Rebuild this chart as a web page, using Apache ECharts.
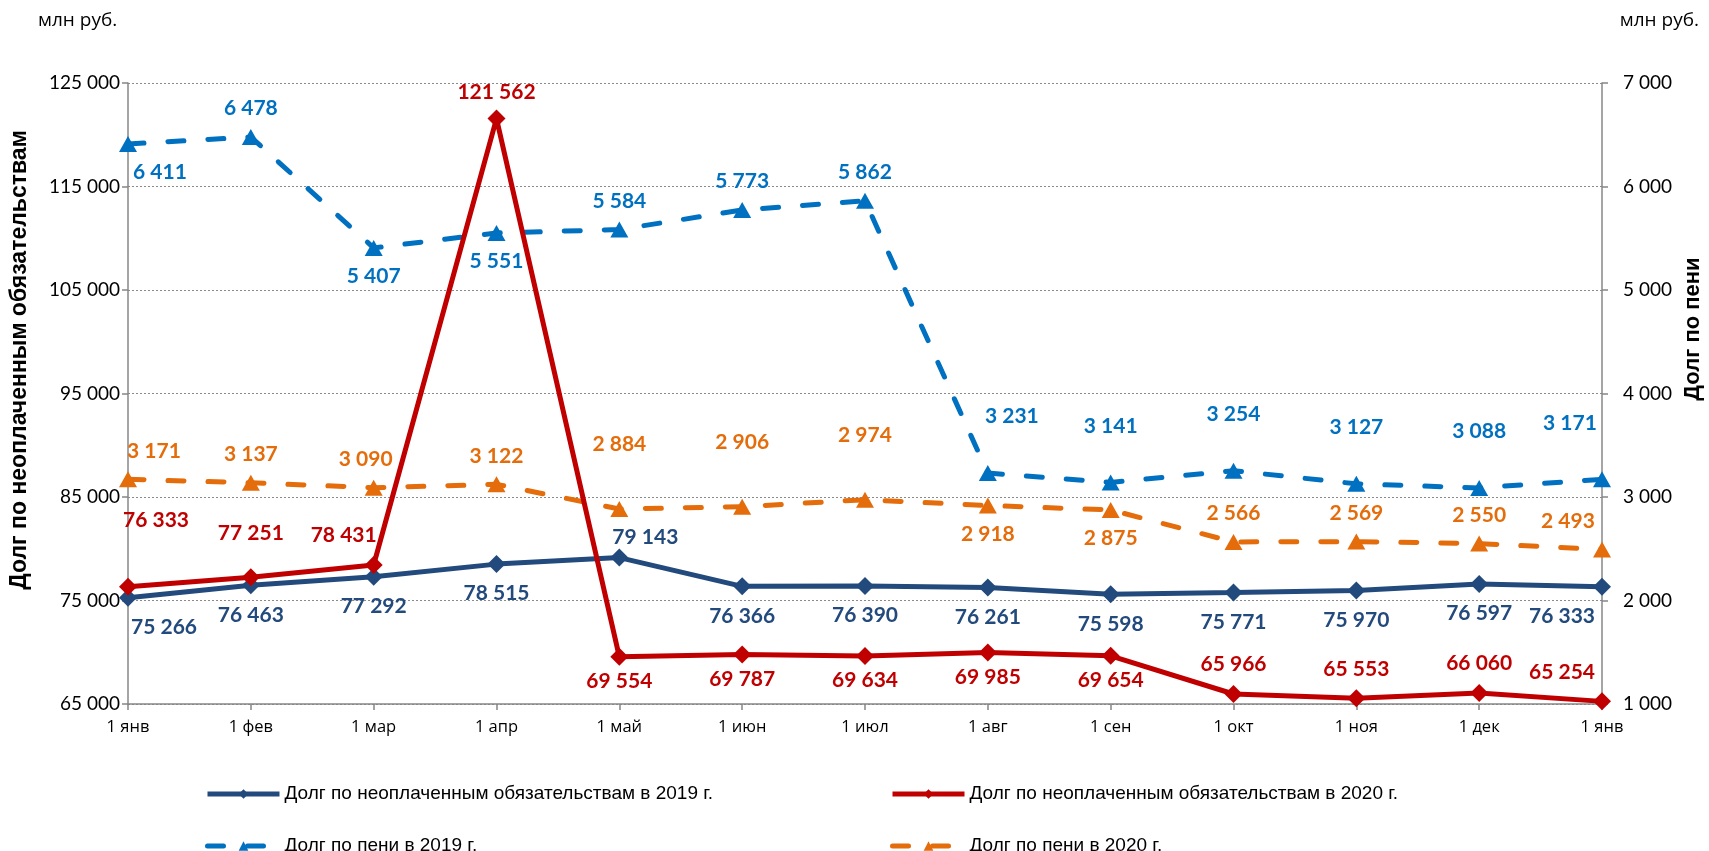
<!DOCTYPE html>
<html>
<head>
<meta charset="utf-8">
<script src="https://cdn.jsdelivr.net/npm/echarts@6/dist/echarts.min.js"></script>
<style>
html,body{margin:0;padding:0;background:#fff;}
#chart{width:1709px;height:851px;}
</style>
</head>
<body>
<div id="chart"></div>
<script>
const categories = ['1 янв','1 фев','1 мар','1 апр','1 май','1 июн','1 июл','1 авг','1 сен','1 окт','1 ноя','1 дек','1 янв'];
const debt2019 = [75266, 76463, 77292, 78515, 79143, 76366, 76390, 76261, 75598, 75771, 75970, 76597, 76333];
const debt2020 = [76333, 77251, 78431, 121562, 69554, 69787, 69634, 69985, 69654, 65966, 65553, 66060, 65254];
const peni2019 = [6411, 6478, 5407, 5551, 5584, 5773, 5862, 3231, 3141, 3254, 3127, 3088, 3171];
const peni2020 = [3171, 3137, 3090, 3122, 2884, 2906, 2974, 2918, 2875, 2566, 2569, 2550, 2493];
const leftTicks = {min: 65000, max: 125000, interval: 10000};
const rightTicks = {min: 1000, max: 7000, interval: 1000};
const names = [
  'Долг по неоплаченным обязательствам в 2019 г.',
  'Долг по неоплаченным обязательствам в 2020 г.',
  'Долг по пени в 2019 г.',
  'Долг по пени в 2020 г.'
];

// label placement (T = top, B = bottom) and [dx, dy] shifts
const pos2019 = 'BBBBTBBBBBBBB';
const pos2020 = 'TTTTBBBBBTTTT';
const posP19  = 'BTBBTTTTTTTTT';
const posP20  = 'TTTTTTTBBTTTT';
const off2019 = [[36,0],[0,0],[0,0],[0,0],[26,9],[0,0],[0,0],[0,0],[0,0],[0,0],[0,0],[0,0],[-40,0]];
const off2020 = [[28,-37],[0,-14],[-30,0],[0,3],[0,-5],[0,-5],[0,-5],[0,-5],[0,-5],[0,0],[0,0],[0,0],[-40,0]];
const offP19  = [[32,0],[0,0],[0,0],[0,0],[0,0],[0,0],[0,0],[24,-28],[0,-28],[0,-28],[0,-28],[0,-28],[-32,-28]];
const offP20  = [[26,0],[0,0],[-8,0],[0,0],[0,-36],[0,-36],[0,-36],[0,0],[0,0],[0,0],[0,0],[0,0],[-34,0]];

const fmt = v => String(v).replace(/\B(?=(\d{3})+(?!\d))/g, ' ');

function build(values, pos, off) {
  return values.map((v, i) => ({
    value: v,
    label: {position: pos[i] === 'T' ? 'top' : 'bottom', offset: off[i]}
  }));
}

const colors = ['#234A7C', '#C00000', '#0070C0', '#E46C0A'];
const labelBase = c => ({
  show: true, color: c, fontFamily: 'Lato', fontWeight: 'bold', fontSize: 21,
  distance: 10, formatter: p => fmt(p.value)
});

const chart = echarts.init(document.getElementById('chart'), null, {renderer: 'canvas'});
const axisGray = '#878787';

const legendBase = (name, left, top) => ({
  data: [name], orient: 'horizontal', left: left, top: top, padding: 0,
  itemWidth: 72, itemHeight: 12,
  lineStyle: {width: 5},
  textStyle: {fontFamily: 'Liberation Sans', fontSize: 19, color: '#000', lineHeight: 22}
});

chart.setOption({
  animation: false,
  textStyle: {fontFamily: 'Lato'},
  grid: {left: 128, right: 107, top: 83, bottom: 147, containLabel: false},
  legend: [
    legendBase(names[0], 205, 783),
    legendBase(names[2], 205, 835),
    legendBase(names[1], 890, 783),
    legendBase(names[3], 890, 835)
  ],
  xAxis: {
    type: 'category', data: categories, boundaryGap: false,
    axisLine: {lineStyle: {color: axisGray, width: 1.5}},
    axisTick: {show: true, alignWithLabel: true, length: 6, lineStyle: {color: axisGray, width: 1.5}},
    axisLabel: {color: '#000', fontFamily: 'Open Sans', fontSize: 16.5, margin: 15},
    splitLine: {show: false}
  },
  yAxis: [
    {
      type: 'value', min: leftTicks.min, max: leftTicks.max, interval: leftTicks.interval,
      axisLine: {show: true, lineStyle: {color: axisGray, width: 1.5}},
      axisTick: {show: true, length: 6, lineStyle: {color: axisGray, width: 1.5}},
      axisLabel: {color: '#000', fontFamily: 'Lato', fontSize: 19, margin: 8, formatter: fmt},
      splitLine: {show: true, lineStyle: {color: '#8a8a8a', width: 1, type: [2, 2]}}
    },
    {
      type: 'value', min: rightTicks.min, max: rightTicks.max, interval: rightTicks.interval,
      position: 'right',
      axisLine: {show: true, lineStyle: {color: axisGray, width: 1.5}},
      axisTick: {show: true, length: 6, lineStyle: {color: axisGray, width: 1.5}},
      axisLabel: {color: '#000', fontFamily: 'Lato', fontSize: 19, margin: 21, formatter: fmt},
      splitLine: {show: false}
    }
  ],
  graphic: [
    {type: 'text', left: 38, top: 11, style: {text: 'млн руб.', font: '19px "Open Sans"', fill: '#000'}},
    {type: 'text', right: 10, top: 11, style: {text: 'млн руб.', font: '19px "Open Sans"', fill: '#000'}},
    {type: 'text', x: 20, y: 360, rotation: Math.PI / 2,
      style: {text: 'Долг по неоплаченным обязательствам', font: 'bold 23px "Liberation Sans"', fill: '#000',
        align: 'center', verticalAlign: 'middle'}},
    {type: 'text', x: 1693, y: 329, rotation: Math.PI / 2,
      style: {text: 'Долг по пени', font: 'bold 22px "Liberation Sans"', fill: '#000',
        align: 'center', verticalAlign: 'middle'}}
  ],
  series: [
    {
      name: names[2], type: 'line', yAxisIndex: 1, z: 2,
      data: build(peni2019, posP19, offP19),
      symbol: 'triangle', symbolSize: [18, 16],
      lineStyle: {color: colors[2], width: 5, type: [16, 24], cap: 'round'},
      itemStyle: {color: colors[2]},
      label: labelBase(colors[2])
    },
    {
      name: names[3], type: 'line', yAxisIndex: 1, z: 2,
      data: build(peni2020, posP20, offP20),
      symbol: 'triangle', symbolSize: [18, 16],
      lineStyle: {color: colors[3], width: 5, type: [16, 24], cap: 'round'},
      itemStyle: {color: colors[3]},
      label: labelBase(colors[3])
    },
    {
      name: names[0], type: 'line', yAxisIndex: 0, z: 3,
      data: build(debt2019, pos2019, off2019),
      symbol: 'diamond', symbolSize: [18, 18],
      lineStyle: {color: colors[0], width: 5},
      itemStyle: {color: colors[0]},
      label: labelBase(colors[0])
    },
    {
      name: names[1], type: 'line', yAxisIndex: 0, z: 3,
      data: build(debt2020, pos2020, off2020),
      symbol: 'diamond', symbolSize: [18, 18],
      lineStyle: {color: colors[1], width: 5},
      itemStyle: {color: colors[1]},
      label: labelBase(colors[1])
    }
  ]
});
</script>
</body>
</html>
